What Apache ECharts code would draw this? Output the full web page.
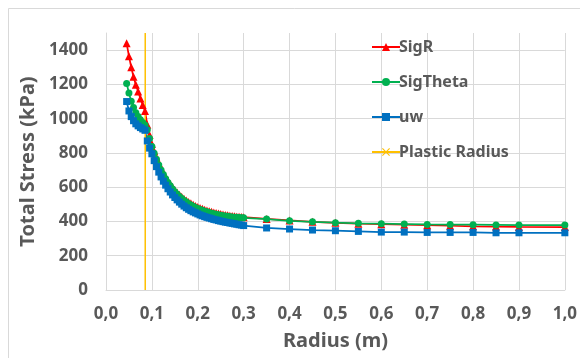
<!DOCTYPE html>
<html lang="en">
<head>
    <meta charset="UTF-8">
    <title>Total Stress</title>
    <style>
        html, body { margin: 0; padding: 0; background: #fff; }
        #chart { width: 580px; height: 358px; }
    </style>
</head>
<body>
<div id="chart"></div>
<script src="https://cdn.jsdelivr.net/npm/echarts@6/dist/echarts.min.js"></script>
<script type="text/javascript">
    const radius = [0.045, 0.05, 0.055, 0.06, 0.065, 0.07, 0.075, 0.08, 0.085,
        0.09, 0.095, 0.1, 0.105, 0.11, 0.115, 0.12, 0.125, 0.13, 0.135, 0.14, 0.145,
        0.15, 0.155, 0.16, 0.165, 0.17, 0.175, 0.18, 0.185, 0.19, 0.195, 0.2, 0.205,
        0.21, 0.215, 0.22, 0.225, 0.23, 0.235, 0.24, 0.245, 0.25, 0.255, 0.26, 0.265,
        0.27, 0.275, 0.28, 0.285, 0.29, 0.295, 0.3,
        0.35, 0.4, 0.45, 0.5, 0.55, 0.6, 0.65, 0.7, 0.75, 0.8, 0.85, 0.9, 1.0];

    const sigR = [1440, 1365, 1300, 1245, 1198, 1158, 1118, 1080, 1045,
        965, 905, 852, 810, 774, 741, 711, 684, 660, 638, 618, 600,
        584, 569, 556, 544, 533, 523, 514, 506, 498, 491, 485, 479,
        474, 469, 464, 460, 456, 452, 449, 446, 443, 440, 438, 436,
        434, 432, 430, 428, 427, 426, 425,
        415, 406, 398, 392, 387, 384, 381, 378, 375, 372, 370, 368, 367];

    const sigTheta = [1205, 1150, 1102, 1065, 1035, 1012, 993, 977, 963,
        935, 884, 838, 798, 763, 730, 700, 674, 650, 628, 608, 590,
        574, 559, 546, 534, 523, 513, 504, 496, 489, 482, 476, 470,
        465, 460, 456, 452, 448, 445, 442, 439, 436, 434, 432, 430,
        428, 426, 425, 424, 423, 422, 421,
        414, 404, 398, 393, 389, 387, 385, 383, 382, 381, 380, 379, 379];

    const uw = [1100, 1045, 1012, 988, 970, 958, 948, 940, 932,
        870, 828, 795, 755, 720, 688, 660, 635, 612, 591, 572, 555,
        540, 526, 513, 501, 490, 480, 471, 463, 456, 450, 444, 438,
        433, 428, 424, 420, 416, 412, 409, 405, 402, 399, 396, 394,
        391, 389, 386, 384, 381, 379, 376,
        362, 356, 350, 346, 342, 338, 338, 336, 336, 336, 334, 334, 334];

    const plasticRadius = 0.0855;
    const plasticSpan = [0, 1500];

    const font = '"Noto Sans", "Open Sans", sans-serif';
    const grey = '#595959';
    const gridColor = '#d9d9d9';
    // small filled cross for the Plastic Radius legend marker
    const crossPath = 'path://M0,1L1,0L5,4L9,0L10,1L6,5L10,9L9,10L5,6L1,10L0,9L4,5Z';

    function pairs(xs, ys) {
        return xs.map((x, i) => [x, ys[i]]);
    }

    const chart = echarts.init(document.getElementById('chart'));
    chart.setOption({
        animation: false,
        backgroundColor: '#fff',
        textStyle: { fontFamily: font },
        graphic: [{
            type: 'rect',
            shape: { x: 8.5, y: 8.5, width: 620, height: 400 },
            style: { fill: 'none', stroke: gridColor, lineWidth: 1 },
            silent: true
        }],
        grid: { left: 106, right: 14, top: 33, bottom: 68 },
        legend: {
            orient: 'vertical',
            left: 366,
            top: 34,
            itemWidth: 28,
            itemHeight: 10,
            itemGap: 19,
            textStyle: { fontFamily: font, fontSize: 16, fontWeight: 'bold', color: grey, padding: [0, 0, 0, -6] },
            data: ['SigR', 'SigTheta', 'uw', 'Plastic Radius']
        },
        xAxis: {
            type: 'value',
            min: 0,
            max: 1,
            interval: 0.1,
            name: 'Radius (m)',
            nameLocation: 'middle',
            nameGap: 41,
            nameTextStyle: { fontFamily: font, fontSize: 20, fontWeight: 'bold', color: grey },
            axisLine: { show: true, lineStyle: { color: gridColor } },
            axisTick: { show: false },
            axisLabel: {
                margin: 16,
                fontFamily: font, fontSize: 17, fontWeight: 'bold', color: grey,
                formatter: v => v.toFixed(1).replace('.', ',')
            },
            splitLine: { show: true, lineStyle: { color: gridColor } }
        },
        yAxis: {
            type: 'value',
            min: 0,
            max: 1500,
            interval: 200,
            name: 'Total Stress (kPa)',
            nameLocation: 'middle',
            nameGap: 63,
            nameTextStyle: { fontFamily: font, fontSize: 20, fontWeight: 'bold', color: grey },
            axisLine: { show: true, lineStyle: { color: gridColor } },
            axisTick: { show: false },
            axisLabel: {
                margin: 18,
                showMaxLabel: false,
                fontFamily: font, fontSize: 17, fontWeight: 'bold', color: grey,
                formatter: v => String(v)
            },
            splitLine: { show: true, showMaxLine: false, lineStyle: { color: gridColor } }
        },
        series: [
            {
                name: 'SigR',
                type: 'line',
                data: pairs(radius, sigR),
                symbol: 'triangle',
                symbolSize: 8,
                color: '#ff0000',
                lineStyle: { width: 1.75 }
            },
            {
                name: 'SigTheta',
                type: 'line',
                data: pairs(radius, sigTheta),
                symbol: 'circle',
                symbolSize: 7,
                color: '#00b050',
                lineStyle: { width: 1.75 }
            },
            {
                name: 'uw',
                type: 'line',
                data: pairs(radius, uw),
                symbol: 'rect',
                symbolSize: 7,
                color: '#0070c0',
                lineStyle: { width: 1.75 }
            },
            {
                name: 'Plastic Radius',
                type: 'line',
                data: plasticSpan.map(v => [plasticRadius, v]),
                symbol: crossPath,
                symbolSize: 8,
                showSymbol: false,
                color: '#ffc000',
                lineStyle: { width: 1.5 }
            }
        ]
    });
</script>
</body>
</html>
